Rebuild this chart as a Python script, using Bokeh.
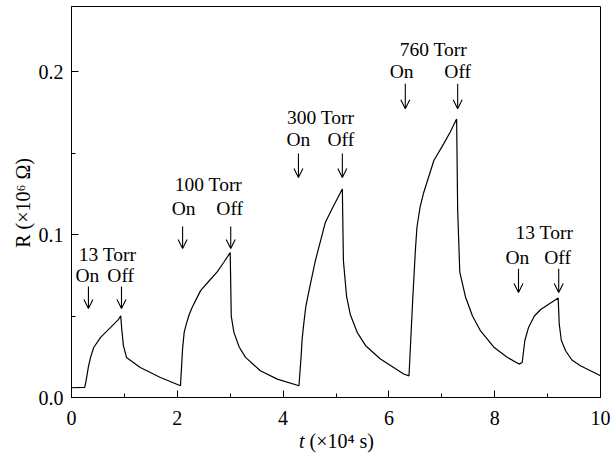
from math import pi
from bokeh.plotting import figure
from bokeh.models import (Range1d, FixedTicker, NumeralTickFormatter, Label,
                          Arrow, OpenHead, ColumnDataSource)
from bokeh.core.properties import value
from bokeh.embed import file_html
from bokeh.resources import INLINE

# time (x10^4 s) and resistance (x10^6 Ohm)
t = [0.00, 0.25, 0.28, 0.32, 0.36, 0.42, 0.55, 0.74, 0.89, 0.93, 0.95, 0.98, 1.04, 1.30, 1.68, 2.06,
     2.10, 2.13, 2.17, 2.22, 2.28, 2.44, 2.60, 2.75, 2.88, 3.00,
     3.02, 3.07, 3.17, 3.29, 3.57, 3.89, 4.30,
     4.34, 4.36, 4.39, 4.43, 4.49, 4.61, 4.80, 4.96, 5.12,
     5.14, 5.20, 5.27, 5.40, 5.56, 5.84, 6.28, 6.38,
     6.45, 6.50, 6.53, 6.59, 6.66, 6.85, 7.04, 7.16, 7.28,
     7.30, 7.34, 7.45, 7.58, 7.73, 7.98, 8.24, 8.46, 8.52,
     8.57, 8.64, 8.75, 8.87, 9.20,
     9.22, 9.26, 9.34, 9.46, 9.62, 10.00]
R = [0.0060, 0.0062, 0.0110, 0.0190, 0.0246, 0.0307, 0.0369, 0.0430, 0.0480, 0.0502, 0.0420, 0.0320, 0.0246, 0.0184, 0.0123, 0.0072,
     0.0300, 0.0400, 0.0450, 0.0505, 0.0553, 0.0656, 0.0715, 0.0770, 0.0830, 0.0890,
     0.0500, 0.0400, 0.0310, 0.0246, 0.0164, 0.0113, 0.0072,
     0.0250, 0.0360, 0.0450, 0.0560, 0.0656, 0.0840, 0.1076, 0.1180, 0.1280,
     0.0840, 0.0620, 0.0510, 0.0400, 0.0318, 0.0236, 0.0144, 0.0133,
     0.0600, 0.0900, 0.1045, 0.1170, 0.1260, 0.1455, 0.1560, 0.1630, 0.1710,
     0.1150, 0.0770, 0.0615, 0.0500, 0.0410, 0.0310, 0.0246, 0.0205, 0.0215,
     0.0350, 0.0430, 0.0500, 0.0540, 0.0610,
     0.0450, 0.0350, 0.0287, 0.0230, 0.0195, 0.0133]

# annotations
pressures = ["13 Torr", "100 Torr", "300 Torr", "760 Torr", "13 Torr"]
title_t = [0.68, 2.59, 4.71, 6.84, 8.94]
title_R = [0.0877, 0.1307, 0.1718, 0.2135, 0.1012]
on_t = [0.30, 2.12, 4.29, 6.24, 8.43]
off_t = [0.93, 2.99, 5.09, 7.30, 9.19]
state_R = [0.0749, 0.1160, 0.1583, 0.2000, 0.0859]
arrow_on_t = [0.32, 2.10, 4.29, 6.31, 8.45]
arrow_off_t = [0.945, 3.01, 5.12, 7.30, 9.21]
arrow_top = [0.0681, 0.1049, 0.1497, 0.1926, 0.0791]
arrow_bot = [0.0546, 0.0914, 0.1350, 0.1773, 0.0644]

x_ticks = [0, 2, 4, 6, 8, 10]
x_minor = [1, 3, 5, 7, 9]
y_ticks = [0.0, 0.1, 0.2]
y_minor = [0.05, 0.15]

FONT = "Liberation Serif"

p = figure(frame_width=529, frame_height=391, output_backend="svg", toolbar_location=None,
           x_range=Range1d(0, 10), y_range=Range1d(0, 0.24),
           min_border_left=71, min_border_right=11, min_border_top=6, min_border_bottom=63)
p.grid.visible = False
p.outline_line_color = "black"
p.outline_line_width = 1
p.background_fill_color = "white"
p.border_fill_color = "white"

for ax in (p.xaxis[0], p.yaxis[0]):
    ax.axis_line_color = "black"
    ax.major_tick_in = 7
    ax.major_tick_out = 0
    ax.minor_tick_in = 4
    ax.minor_tick_out = 0
    ax.major_tick_line_color = "black"
    ax.minor_tick_line_color = "black"
    ax.major_label_text_font = FONT
    ax.major_label_text_font_size = "20px"
    ax.major_label_text_color = "black"

p.xaxis[0].ticker = FixedTicker(ticks=x_ticks, minor_ticks=x_minor)
p.yaxis[0].ticker = FixedTicker(ticks=y_ticks, minor_ticks=y_minor)
p.xaxis[0].formatter = NumeralTickFormatter(format="0")
p.yaxis[0].formatter = NumeralTickFormatter(format="0.0")
p.xaxis[0].major_label_standoff = 13
p.yaxis[0].major_label_standoff = 8

p.line(t, R, line_color="black", line_width=1.2)

# annotation texts
p.text(x=title_t, y=title_R, text=pressures, text_align="center", text_baseline="alphabetic",
       text_font=value(FONT), text_font_size="19.5px", text_color="black")
p.text(x=on_t, y=state_R, text=["On"] * len(on_t), text_align="center", text_baseline="alphabetic",
       text_font=value(FONT), text_font_size="19.5px", text_color="black")
p.text(x=off_t, y=state_R, text=["Off"] * len(off_t), text_align="center", text_baseline="alphabetic",
       text_font=value(FONT), text_font_size="19.5px", text_color="black")

arrow_src = ColumnDataSource(dict(x=arrow_on_t + arrow_off_t, y0=arrow_top + arrow_top,
                                  y1=arrow_bot + arrow_bot))
p.add_layout(Arrow(end=OpenHead(size=9, line_color="black", line_width=1.1),
                   x_start="x", y_start="y0", x_end="x", y_end="y1",
                   source=arrow_src, line_color="black", line_width=1.1))

# axis titles: data-unit labels placed in side panels (outside the clipped frame)
XL_X, XL_Y = 4.405, -0.0270
YL_X, YL_Y = -0.926, 0.1194
p.add_layout(Label(x=XL_X, y=XL_Y, text="\u00a0(×10⁴ s)",
                   text_font=FONT, text_font_size="20px", text_color="black",
                   text_align="left", text_baseline="middle"), "below")
p.add_layout(Label(x=XL_X, y=XL_Y, text="t",
                   text_font=FONT, text_font_style="italic", text_color="black",
                   text_font_size="20px", text_align="right", text_baseline="middle"), "right")
p.add_layout(Label(x=YL_X, y=YL_Y, text="R\u00a0(×10⁶ Ω)",
                   text_font=FONT, text_font_size="20px", text_color="black",
                   text_align="center", text_baseline="middle", angle=pi / 2), "left")

open("out.html", "w").write(file_html(p, INLINE))
